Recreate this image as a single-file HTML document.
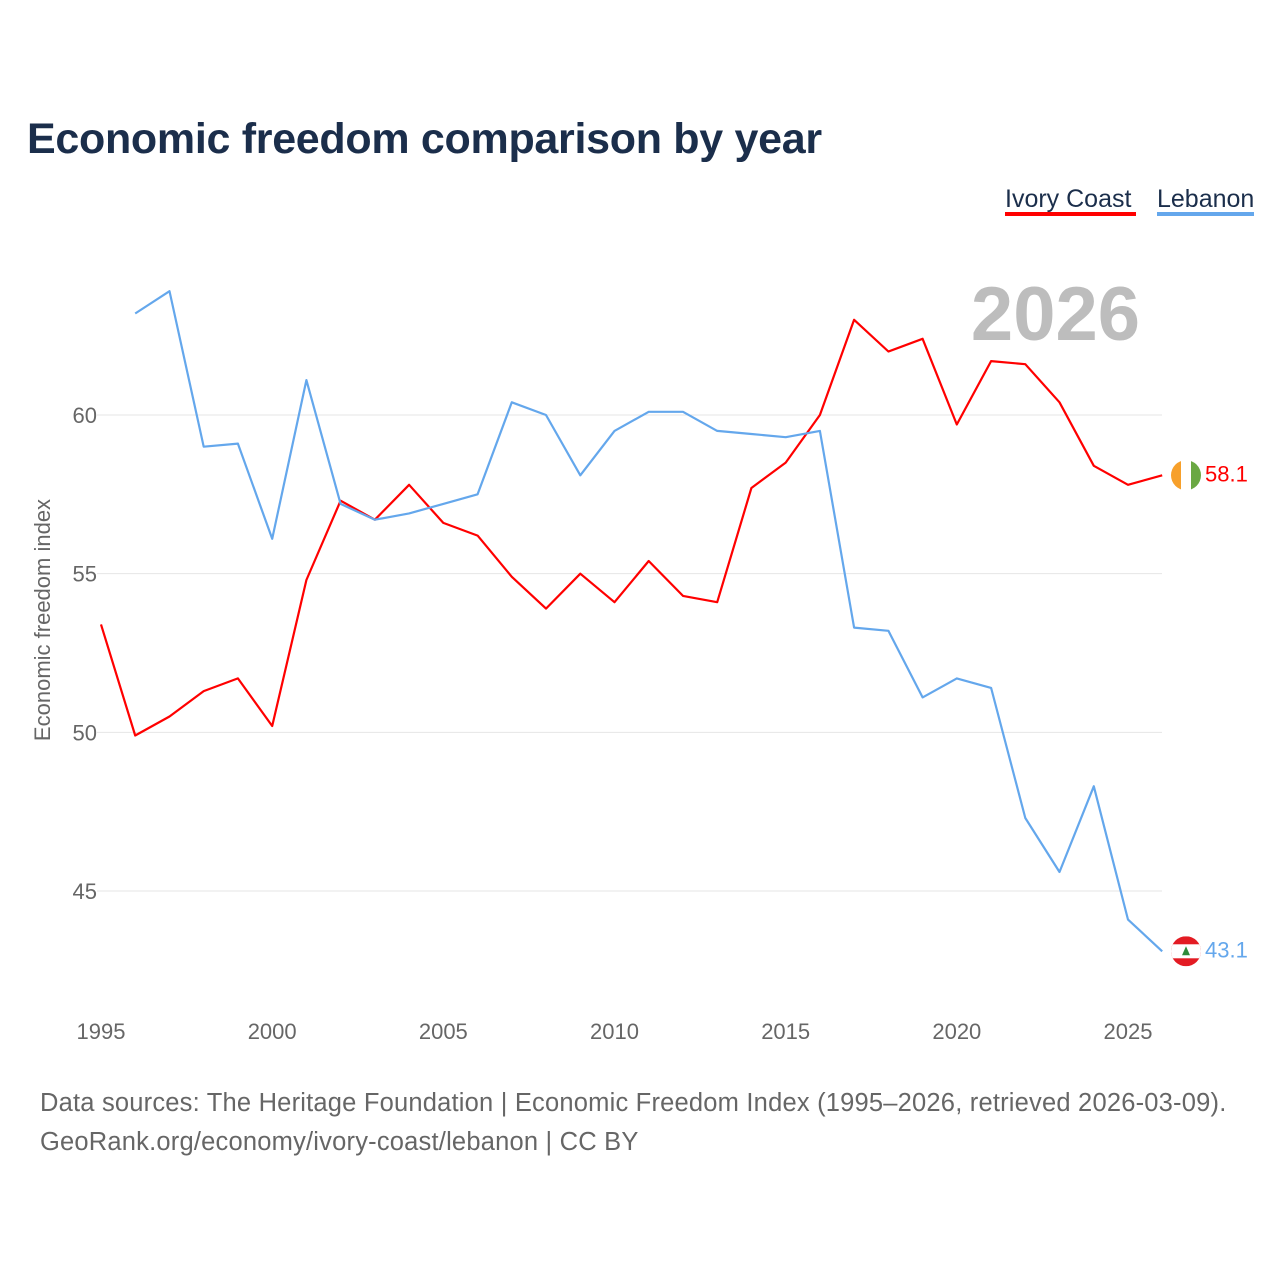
<!DOCTYPE html>
<html><head><meta charset="utf-8">
<style>
body{margin:0;background:#fff;font-family:"Liberation Sans",sans-serif;}
#wrap{position:relative;width:1280px;height:1280px;overflow:hidden;}
</style></head>
<body>
<div id="wrap">
<svg id="chart" width="1280" height="1280" xmlns="http://www.w3.org/2000/svg">
<text x="27" y="153" font-size="43" font-weight="bold" fill="#1b2e4b" letter-spacing="-0.3">Economic freedom comparison by year</text>
<g>
<text x="1005" y="207" font-size="25" fill="#1b2e4b">Ivory Coast</text>
<rect x="1005" y="212" width="131" height="4" fill="#ff0000"/></g>
<g>
<text x="1157" y="207" font-size="25" fill="#1b2e4b">Lebanon</text>
<rect x="1157" y="212" width="97" height="4" fill="#64a7ec"/></g>
<text x="1140" y="340" font-size="76" font-weight="bold" fill="#bdbdbd" text-anchor="end">2026</text>
<g id="grid"></g>
<g id="series"></g>
<text transform="translate(50,620) rotate(-90)" font-size="22" fill="#666" text-anchor="middle">Economic freedom index</text>
<text x="40" y="1111" font-size="25.5" fill="#666" letter-spacing="0.2">Data sources: The Heritage Foundation | Economic Freedom Index (1995–2026, retrieved 2026-03-09).</text>
<text x="40" y="1150" font-size="25.5" fill="#666" letter-spacing="0.2">GeoRank.org/economy/ivory-coast/lebanon | CC BY</text>
</svg>
</div>
<script>
const years = [1995,1996,1997,1998,1999,2000,2001,2002,2003,2004,2005,2006,2007,2008,2009,2010,2011,2012,2013,2014,2015,2016,2017,2018,2019,2020,2021,2022,2023,2024,2025,2026];
const ivoryCoast = [53.4,49.9,50.5,51.3,51.7,50.2,54.8,57.3,56.7,57.8,56.6,56.2,54.9,53.9,55.0,54.1,55.4,54.3,54.1,57.7,58.5,60.0,63.0,62.0,62.4,59.7,61.7,61.6,60.4,58.4,57.8,58.1];
const lebanon = [null,63.2,63.9,59.0,59.1,56.1,61.1,57.2,56.7,56.9,57.2,57.5,60.4,60.0,58.1,59.5,60.1,60.1,59.5,59.4,59.3,59.5,53.3,53.2,51.1,51.7,51.4,47.3,45.6,48.3,44.1,43.1];
const yTicks = [45,50,55,60];
const xTicks = [1995,2000,2005,2010,2015,2020,2025];
const NS="http://www.w3.org/2000/svg";
const xs = y => 101 + (y-1995)*(1128-101)/30;
const ys = v => 415 - (v-60)*(891-415)/15;
const grid=document.getElementById('grid'), ser=document.getElementById('series');
function mk(tag,attrs,parent){const e=document.createElementNS(NS,tag);for(const k in attrs)e.setAttribute(k,attrs[k]);parent.appendChild(e);return e;}
yTicks.forEach(v=>{
  const l=mk('line',{x1:97,x2:1162,y1:ys(v),y2:ys(v),stroke:'#e6e6e6','stroke-width':1},grid);
  
  
  const t=mk('text',{x:97,y:ys(v)+8,'font-size':22,fill:'#666','text-anchor':'end'},grid);
  t.textContent=v;
  
  
});
xTicks.forEach(y=>{
  const t=mk('text',{x:xs(y),y:1039,'font-size':22,fill:'#666','text-anchor':'middle'},grid);
  t.textContent=y;
  
  
});
function line(vals,color,name){
  let d='';vals.forEach((v,i)=>{if(v==null)return;d+=(d?'L':'M')+xs(years[i]).toFixed(1)+','+ys(v).toFixed(1);});
  const p=mk('path',{d:d,fill:'none',stroke:color,'stroke-width':2.2,'stroke-linejoin':'round'},ser);
  
  
  const last=vals[vals.length-1], ly=ys(last);
  const t=mk('text',{x:1205,y:ly+6,'font-size':22,fill:color},ser);
  t.textContent=last.toFixed(1);
  
  
  return ly;
}
const y1=line(ivoryCoast,'#ff0000','ivory-coast');
const y2=line(lebanon,'#64a7ec','lebanon');
const f1=mk('g',{},ser);


const cp1=mk('clipPath',{id:'c1'},f1);mk('circle',{cx:1186,cy:y1,r:15},cp1);
const g1=mk('g',{'clip-path':'url(#c1)'},f1);
mk('rect',{x:1171,y:y1-15,width:10,height:30,fill:'#f7a02b'},g1);
mk('rect',{x:1181,y:y1-15,width:10,height:30,fill:'#fff'},g1);
mk('rect',{x:1191,y:y1-15,width:10,height:30,fill:'#6aa843'},g1);
const f2=mk('g',{},ser);


const cp=mk('clipPath',{id:'c2'},f2);mk('circle',{cx:1186,cy:y2,r:15},cp);
const g2=mk('g',{'clip-path':'url(#c2)'},f2);
mk('rect',{x:1171,y:y2-15,width:30,height:30,fill:'#e31b23'},g2);
mk('rect',{x:1171,y:y2-7,width:30,height:14,fill:'#fff'},g2);
mk('polygon',{points:`1186,${y2-5} 1190,${y2+4} 1182,${y2+4}`,fill:'#2e8b3a'},g2);
</script>
</body></html>
